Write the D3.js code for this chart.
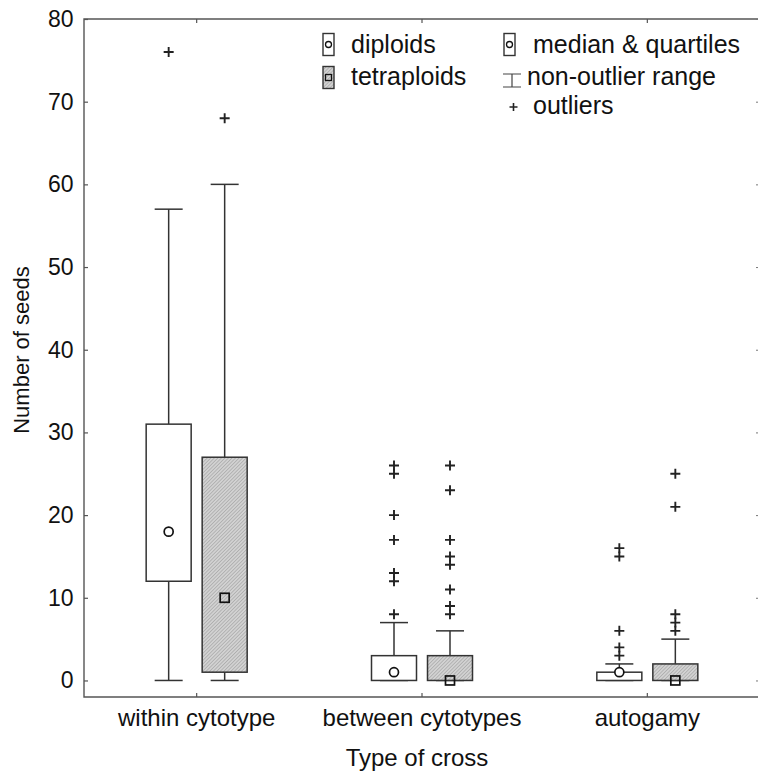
<!DOCTYPE html>
<html>
<head>
<meta charset="utf-8">
<script src="https://cdn.jsdelivr.net/npm/d3@7"></script>
<style>
  body { margin: 0; background: #fff; overflow: hidden; }
  svg { display: block; }
  svg text { font-family: "Liberation Sans", Arial, sans-serif; fill: #111; }
</style>
</head>
<body>
<svg id="drawing_region"></svg>
<script>
// data
const categories = ['within cytotype', 'between cytotypes', 'autogamy'];
const groups = ['diploids', 'tetraploids'];

const diploidMin = [0, 0, 0];
const diploidQ1 = [12, 0, 0];
const diploidMedian = [18, 1, 1];
const diploidQ3 = [31, 3, 1];
const diploidMax = [57, 7, 2];
const diploidOutliers = [[76], [8, 12, 13, 17, 20, 25, 26], [3, 4, 6, 15, 16]];

const tetraMin = [0, 0, 0];
const tetraQ1 = [1, 0, 0];
const tetraMedian = [10, 0, 0];
const tetraQ3 = [27, 3, 2];
const tetraMax = [60, 6, 5];
const tetraOutliers = [[68], [8, 9, 11, 14, 15, 17, 23, 26], [6, 7, 8, 21, 25]];

const yTicks = [0, 10, 20, 30, 40, 50, 60, 70, 80];

const config = {
    width: 758,
    height: 775,
    margin: {top: 19, right: -2, bottom: 78, left: 84},
    xlabel: 'Type of cross',
    ylabel: 'Number of seeds'
};

const boxes = [];
categories.forEach((c, i) => {
    boxes.push({cat: c, group: 'diploids', lo: diploidMin[i], q1: diploidQ1[i], med: diploidMedian[i],
                q3: diploidQ3[i], hi: diploidMax[i], out: diploidOutliers[i]});
    boxes.push({cat: c, group: 'tetraploids', lo: tetraMin[i], q1: tetraQ1[i], med: tetraMedian[i],
                q3: tetraQ3[i], hi: tetraMax[i], out: tetraOutliers[i]});
});

const svg = d3.select('#drawing_region')
    .attr('width', config.width)
    .attr('height', config.height);

// hatched fill for tetraploids
const defs = svg.append('defs');
const pat = defs.append('pattern')
    .attr('id', 'hatch')
    .attr('patternUnits', 'userSpaceOnUse')
    .attr('width', 2.5).attr('height', 2.5)
    .attr('patternTransform', 'rotate(45)');
pat.append('rect').attr('width', 2.5).attr('height', 2.5).attr('fill', '#d2d2d2');
pat.append('line').attr('x1', 0).attr('y1', 0).attr('x2', 0).attr('y2', 2.5)
    .attr('stroke', '#969696').attr('stroke-width', 1);

const x0 = config.margin.left;
const x1 = config.width - config.margin.right;
const y0 = config.margin.top;
const y1 = config.height - config.margin.bottom;

const xscale = d3.scaleBand().domain(categories).range([x0, x1]);
const gscale = d3.scaleBand().domain(groups).range([-56, 56]);
const yscale = d3.scaleLinear().domain([-2, 80]).range([y1, y0]);

const boxWidth = 45;
const capWidth = 28;
const cx = d => xscale(d.cat) + xscale.bandwidth() / 2 + gscale(d.group) + gscale.bandwidth() / 2;

// frame (right side falls just outside the picture)
svg.append('path')
    .attr('d', `M${x1},${y0}H${x0}V${y1}H${x1}`)
    .attr('fill', 'none')
    .attr('stroke', '#555')
    .attr('stroke-width', 1.4);

// axes (inward ticks)
const yaxis = svg.append('g')
    .attr('transform', `translate(${x0},0)`)
    .call(d3.axisLeft(yscale).tickValues(yTicks).tickSizeInner(-4).tickSizeOuter(0).tickPadding(10.5));
yaxis.select('.domain').remove();
yaxis.selectAll('line').attr('stroke', '#555').attr('stroke-width', 1.2);
yaxis.selectAll('text').style('font-size', '23px').attr('fill', '#111');

const yaxisR = svg.append('g')
    .attr('transform', `translate(${x1},0)`)
    .call(d3.axisRight(yscale).tickValues(yTicks).tickSizeInner(-4).tickSizeOuter(0).tickFormat(''));
yaxisR.select('.domain').remove();
yaxisR.selectAll('line').attr('stroke', '#777').attr('stroke-width', 1);

const xaxis = svg.append('g')
    .attr('transform', `translate(0,${y1})`)
    .call(d3.axisBottom(xscale).tickSizeInner(-4).tickSizeOuter(0).tickPadding(29));
xaxis.select('.domain').remove();
xaxis.selectAll('line').attr('stroke', '#555').attr('stroke-width', 1.2);
xaxis.selectAll('text').style('font-size', '24px').attr('fill', '#111').attr('dy', 0);

const xaxisT = svg.append('g')
    .attr('transform', `translate(0,${y0})`)
    .call(d3.axisTop(xscale).tickSizeInner(-4).tickSizeOuter(0).tickFormat(''));
xaxisT.select('.domain').remove();
xaxisT.selectAll('line').attr('stroke', '#555').attr('stroke-width', 1.2);

// axis titles
svg.append('text')
    .attr('x', (x0 + x1) / 2 - 5)
    .attr('y', 766)
    .attr('text-anchor', 'middle')
    .style('font-size', '24px')
    .text(config.xlabel);

svg.append('text')
    .attr('transform', `translate(29, 350) rotate(-90)`)
    .attr('text-anchor', 'middle')
    .style('font-size', '22px')
    .text(config.ylabel);

// boxes
const chart = svg.append('g');
const bg = chart.selectAll('g.box')
    .data(boxes)
    .enter()
    .append('g')
    .attr('class', 'box');

const stroke = '#333';

bg.append('line')   // whisker upper
    .attr('x1', cx).attr('x2', cx)
    .attr('y1', d => yscale(d.q3)).attr('y2', d => yscale(d.hi))
    .attr('stroke', stroke).attr('stroke-width', 1.5);
bg.append('line')   // whisker lower
    .attr('x1', cx).attr('x2', cx)
    .attr('y1', d => yscale(d.q1)).attr('y2', d => yscale(d.lo))
    .attr('stroke', stroke).attr('stroke-width', 1.5);
bg.append('line')
    .attr('x1', d => cx(d) - capWidth / 2).attr('x2', d => cx(d) + capWidth / 2)
    .attr('y1', d => yscale(d.hi)).attr('y2', d => yscale(d.hi))
    .attr('stroke', stroke).attr('stroke-width', 1.5);
bg.append('line')
    .attr('x1', d => cx(d) - capWidth / 2).attr('x2', d => cx(d) + capWidth / 2)
    .attr('y1', d => yscale(d.lo)).attr('y2', d => yscale(d.lo))
    .attr('stroke', stroke).attr('stroke-width', 1.5);

bg.append('rect')
    .attr('x', d => cx(d) - boxWidth / 2)
    .attr('y', d => yscale(d.q3))
    .attr('width', boxWidth)
    .attr('height', d => yscale(d.q1) - yscale(d.q3))
    .attr('fill', d => d.group == 'diploids' ? '#fff' : 'url(#hatch)')
    .attr('stroke', stroke)
    .attr('stroke-width', 1.5);

// median markers
bg.filter(d => d.group == 'diploids').append('circle')
    .attr('cx', cx)
    .attr('cy', d => yscale(d.med))
    .attr('r', 4.5)
    .attr('fill', '#fff')
    .attr('stroke', '#111')
    .attr('stroke-width', 1.7);
bg.filter(d => d.group == 'tetraploids').append('rect')
    .attr('x', d => cx(d) - 4.5)
    .attr('y', d => yscale(d.med) - 4.5)
    .attr('width', 9).attr('height', 9)
    .attr('fill', 'none')
    .attr('stroke', '#111')
    .attr('stroke-width', 1.7);

// outliers
bg.selectAll('path.outlier')
    .data(d => d.out.map(v => ({x: cx(d), v: v})))
    .enter()
    .append('path')
    .attr('class', 'outlier')
    .attr('transform', d => `translate(${d.x},${yscale(d.v)})`)
    .attr('d', 'M-5,0H5M0,-5V5')
    .attr('stroke', '#222')
    .attr('stroke-width', 1.9);

// legend
const legend = svg.append('g');
legend.append('rect').attr('x', 323).attr('y', 33.5).attr('width', 11).attr('height', 22)
    .attr('fill', '#fff').attr('stroke', stroke).attr('stroke-width', 1.4);
legend.append('circle').attr('cx', 328.5).attr('cy', 44.5).attr('r', 3)
    .attr('fill', 'none').attr('stroke', '#111').attr('stroke-width', 1.3);
legend.append('rect').attr('x', 323).attr('y', 66.5).attr('width', 11).attr('height', 22)
    .attr('fill', 'url(#hatch)').attr('stroke', stroke).attr('stroke-width', 1.4);
legend.append('rect').attr('x', 325.5).attr('y', 74.5).attr('width', 6).attr('height', 6)
    .attr('fill', 'none').attr('stroke', '#111').attr('stroke-width', 1.3);

legend.append('rect').attr('x', 504).attr('y', 33.5).attr('width', 11).attr('height', 22)
    .attr('fill', '#fff').attr('stroke', stroke).attr('stroke-width', 1.4);
legend.append('circle').attr('cx', 509.5).attr('cy', 44.5).attr('r', 3)
    .attr('fill', 'none').attr('stroke', '#111').attr('stroke-width', 1.3);
legend.append('path')
    .attr('d', 'M503,74H521M512,74V87M503,87H521')
    .attr('fill', 'none').attr('stroke', '#444').attr('stroke-width', 1.2);
legend.append('path')
    .attr('d', 'M509.5,107H517.5M513.5,103V111')
    .attr('stroke', '#222').attr('stroke-width', 1.6);

const legendLabels = ['diploids', 'tetraploids', 'median & quartiles', 'non-outlier range', 'outliers'];
const legendX = [351, 351, 533, 527, 533];
const legendY = [53, 85, 53, 85, 114];
legend.selectAll('text.lab')
    .data(legendLabels)
    .enter()
    .append('text')
    .attr('class', 'lab')
    .attr('x', (d, i) => legendX[i])
    .attr('y', (d, i) => legendY[i])
    .style('font-size', '25px')
    .text(d => d);
</script>
</body>
</html>
